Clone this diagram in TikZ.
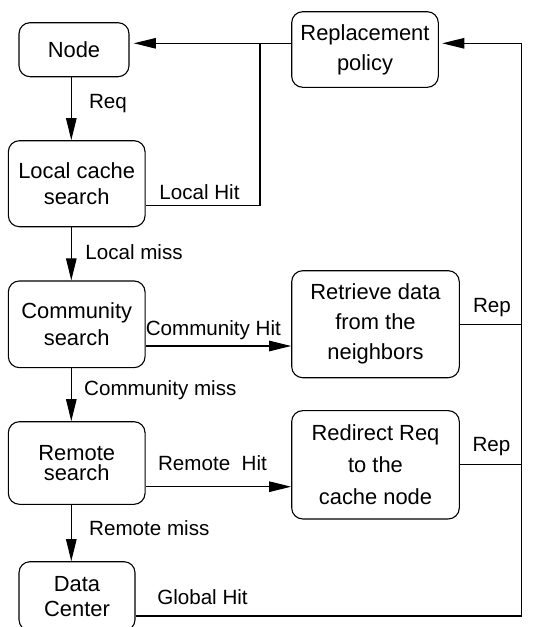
\documentclass[tikz,border=0pt]{standalone}
\usepackage{fontspec}
\setmainfont{Liberation Sans}
\usetikzlibrary{arrows.meta}
\newcommand\myboxfont[1]{\fontsize{21.9}{#1}\selectfont}
\tikzset{
  box/.style={draw, rounded corners=11pt, line width=1.1pt, align=center, inner sep=0pt, anchor=center},
  lbl/.style={inner sep=0pt, anchor=center, font=\fontsize{20.6}{24}\selectfont},
  conn/.style={line width=1.1pt},
  arr/.style={conn, -{Triangle[length=22pt,width=10.5pt]}}
}
\begin{document}
\begin{tikzpicture}[x=1pt,y=-1pt]
\useasboundingbox (0,0) rectangle (539,627);
\clip (0,0) rectangle (539,627);
% boxes
\node[box, minimum width=110pt, minimum height=54pt, font=\myboxfont{25}] (n1) at (74,49.7) {Node};
\node[box, minimum width=146.6pt, minimum height=75.6pt, font=\myboxfont{30}] (rp) at (365,49.5) {Replacement\\policy};
\node[box, minimum width=136.7pt, minimum height=86pt, font=\myboxfont{25.7}] (lc) at (76.7,183.7) {Local cache\\search};
\node[box, minimum width=136.7pt, minimum height=86.7pt, font=\myboxfont{26.7}] (cs) at (76.7,324.3) {Community\\search};
\node[box, minimum width=167.6pt, minimum height=107pt, font=\myboxfont{30}] (rt) at (375.5,324.2) {Retrieve data\\from the\\neighbors};
\node[box, minimum width=136.7pt, minimum height=82.6pt, font=\myboxfont{20.5}] (rs) at (76.7,463) {Remote\\search};
\node[box, minimum width=167.6pt, minimum height=108.3pt, font=\myboxfont{31.7}] (rd) at (375.5,464.8) {Redirect Req\\to the\\cache node};
\node[box, minimum width=116pt, minimum height=69pt, font=\myboxfont{25}] (dc) at (77,596.2) {Data\\Center};
% helper coordinates
\coordinate (ax) at (71.3,0);
\coordinate (rx) at (521.7,0);
\coordinate (hx) at (260,0);
\coordinate (ytop) at (0,43.3);
\coordinate (ylh) at (0,205.7);
\coordinate (ych) at (0,346);
\coordinate (yrh) at (0,486.7);
\coordinate (yr1) at (0,324.3);
\coordinate (yr2) at (0,464.3);
\coordinate (ygh) at (0,616);
% vertical flow
\draw[arr] (n1.south -| ax) -- (lc.north -| ax);
\draw[arr] (lc.south -| ax) -- (cs.north -| ax);
\draw[arr] (cs.south -| ax) -- (rs.north -| ax);
\draw[arr] (rs.south -| ax) -- (dc.north -| ax);
% hits
\draw[arr] (cs.east |- ych) -- (rt.west |- ych);
\draw[arr] (rs.east |- yrh) -- (rd.west |- yrh);
% replacement policy to node
\draw[arr, shorten >=4.3pt] (rp.west |- ytop) -- (n1.east |- ytop);
\draw[conn] (lc.east |- ylh) -| (hx |- ytop);
% right loop
\draw[arr, shorten >=3.4pt] (dc.east |- ygh) -| (rx |- ytop) -- (rp.east |- ytop);
\draw[conn] (rt.east |- yr1) -- (rx |- yr1);
\draw[conn] (rd.east |- yr2) -- (rx |- yr2);
% labels
\node[lbl] (l1) at (108,103.3) {Req};
\node[lbl] (l2) at (199.5,191.7) {Local Hit};
\node[lbl] (l3) at (134,251.7) {Local miss};
\node[lbl] (l4) at (213.3,330) {Community Hit};
\node[lbl] (l5) at (492,307.3) {Rep};
\node[lbl] (l6) at (160.3,390) {Community miss};
\node[lbl] (l7) at (212.5,463.3) {Remote\ \ Hit};
\node[lbl] (l8) at (491.5,446.7) {Rep};
\node[lbl] (l9) at (149.3,528.3) {Remote miss};
\node[lbl] (l10) at (202.5,596.7) {Global Hit};
\end{tikzpicture}
\end{document}
